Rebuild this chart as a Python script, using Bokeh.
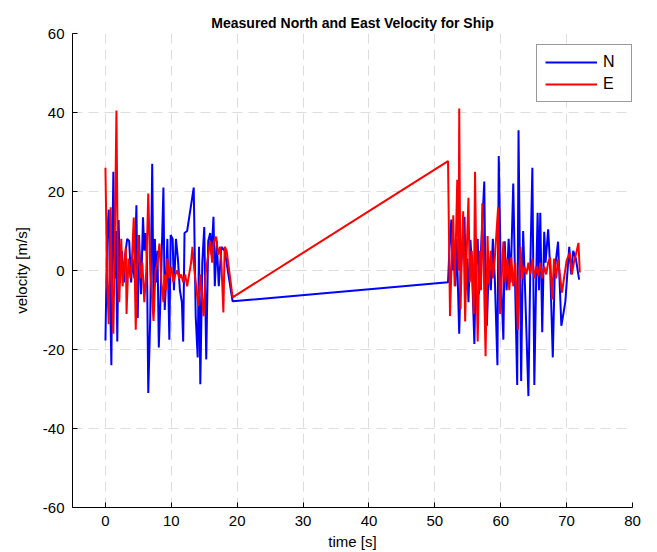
from bokeh.plotting import figure
from bokeh.models import FixedTicker, Range1d, Legend, LegendItem
from bokeh.embed import file_html
from bokeh.resources import INLINE

# North velocity (blue): time [s], value [m/s]
t_n = [0.0, 0.25, 0.5, 0.7, 0.9, 1.05, 1.2, 1.4, 1.6, 1.8, 2.0, 2.2, 2.5, 2.8, 3.0, 3.3, 3.6, 3.9,
       4.1, 4.4, 4.7, 4.9, 5.1, 5.4, 5.7, 5.9, 6.1, 6.3, 6.5, 6.8, 7.1, 7.3, 7.5, 7.7, 7.9, 8.1,
       8.4, 8.8, 9.0, 9.2, 9.4, 9.7, 9.9, 10.2, 10.4, 10.7, 11.0, 11.3, 11.6, 11.8, 12.0, 12.4,
       13.4, 13.7, 14.0, 14.2, 14.4, 14.7, 15.0, 15.3, 15.6, 15.9, 16.1, 16.4, 16.6, 16.9, 17.2,
       17.6, 18.1, 19.3,
       52.0, 52.2, 52.5, 52.7, 52.9, 53.1, 53.3, 53.7, 53.9, 54.2, 54.5, 54.7, 54.9, 55.1, 55.4,
       55.6, 56.0, 56.2, 56.5, 56.7, 57.0, 57.5, 57.7, 57.9, 58.2, 58.5, 58.8, 59.1, 59.5, 59.7,
       60.0, 60.4, 60.6, 60.9, 61.2, 61.5, 61.9, 62.2, 62.5, 62.7, 63.1, 63.4, 63.7, 64.2, 64.5,
       64.8, 65.1, 65.4, 65.6, 65.8, 66.0, 66.3, 66.6, 66.8, 67.2, 67.5, 67.9, 68.2, 68.7, 69.2,
       69.8, 70.4, 70.7, 71.0, 71.4, 71.9]
v_n = [-17.7, 8, 15.4, -5, -24, 5, 25, -2, 10, -18, 12.8, -3, 5, -3, 4, 8, 7.5, -3,
       3, -2, 16.5, -12, 9, -6, 13.5, 5, 9.5, 3, -31, -12, 27, -10, 8, -3, 5, -19.5,
       -5, 21, -10, -3, 8, -17.5, 9, 8, -5, 8, 3, -5, -8, -18, 9.5, 10,
       21, -11.6, -22, 6, -28.8, 2, 11, -22.5, 7.5, 9.5, 4, 13.6, -4, 7.5, -4,
       6, 5, -7.8,
       -3, 5, 12.9, 0, 5, -4, 8, -16, -2, 7, 13.6, -5, 3, -8, 7.8,
       2, -18.6, 0, 8, -6, 5, 22.5, -8, -14, 2, -5, 8, -2, -24, 29,
       0, -17.5, 7.4, -5, 8, -3, 22, -5, -29, 35.5, -28, 10, -5, -31.8, 2,
       26, -29, 0, 14.6, -5, 14.6, -15.6, 9.8, 2, 10.4, 1, -22, 0, 7.3, -14,
       -8, 6, -1, 5, 3, -2.3]

# East velocity (red): time [s], value [m/s]
t_e = [0.0, 0.25, 0.5, 0.8, 1.0, 1.2, 1.4, 1.67, 1.9, 2.1, 2.4, 2.6, 2.9, 3.1, 3.2, 3.5, 3.8,
       4.0, 4.3, 4.6, 4.8, 5.0, 5.3, 5.6, 5.9, 6.2, 6.5, 6.8, 7.0, 7.3, 7.6, 7.9, 8.2, 8.5,
       8.8, 9.0, 9.2, 9.4, 9.7, 10.0, 10.3, 10.6, 10.9, 11.2, 11.5, 11.8, 12.1, 12.4, 12.7,
       13.0, 13.2, 13.5, 14.1, 14.4, 14.9, 15.2, 15.6, 15.9, 16.2, 16.4, 16.8, 17.1, 17.4,
       17.6, 17.9, 18.1, 18.4, 19.3,
       52.0, 52.3, 52.6, 52.8, 53.0, 53.2, 53.4, 53.6, 53.7, 53.9, 54.1, 54.3, 54.6, 54.8,
       55.1, 55.3, 55.6, 55.9, 56.1, 56.3, 56.5, 56.8, 57.0, 57.2, 57.4, 57.7, 58.0, 58.2,
       58.5, 58.8, 59.1, 59.6, 59.9, 60.2, 60.4, 60.7, 61.0, 61.3, 61.6, 61.9, 62.2, 62.6,
       63.0, 63.3, 63.6, 63.9, 64.2, 64.5, 64.8, 65.1, 65.4, 65.7, 66.0, 66.3, 66.6, 66.9,
       67.2, 67.5, 67.8, 68.1, 68.4, 68.7, 69.3, 69.6, 70.0, 70.5, 70.8, 71.1, 71.4, 71.8, 72.0]
v_e = [26, -2, -13.6, 16, -5, -16, 5, 40.5, -3, -8, 8, -4, 2, 5.8, -11, 3, -2,
       2, 13.4, -15, 0, 9, -2, 2, -8, 0, 19.5, 0, -5, -12.8, 0, 2, 6.8, -3,
       -8, -1, -5, 3, -2, 1, -3, -1, 0, -2, -1, -3, -1, -4, -1,
       2, 6, 0, -9, -1, -11.6, -1, 4, 7.5, 2, 7, 8.6, 4, 6,
       2, -10.6, 6, 5, -6.8,
       27.7, -11.5, 5, 14, -4, 8, 23, 0, 41, -9.8, 5, 15, -12.9, 3,
       18.4, -3, 5, -11, 25, 0, -18, 5, -5, 17, 2, -21.7, 8.7, -3.5,
       5, -2, 3, 16, -11, 0, 7.3, -3, 3, -5, 3.4, -4, 2, -15,
       6, -2, 1, -1, 2, -1, 3, -2, 1, -1.5, 2, -2, 1, -1,
       2, 3.3, -7.3, 3, -2, 2.8, -5.6, -2, 2.5, 4.5, -1, 2, 4, 7, -0.5]

x_ticks = [0, 10, 20, 30, 40, 50, 60, 70, 80]
y_ticks = [-60, -40, -20, 0, 20, 40, 60]

FONT = "Liberation Sans"

p = figure(width=657, height=552, output_backend="svg", toolbar_location=None,
           x_range=Range1d(-5, 80), y_range=Range1d(-60, 60),
           min_border_left=72, min_border_right=25, min_border_top=33, min_border_bottom=43,
           title="Measured North and East Velocity for Ship")
p.title.align = "center"
p.title.text_font = FONT
p.title.text_font_size = "14px"
p.title.text_font_style = "bold"
p.title.text_color = "black"
p.title.offset = 0
p.title.standoff = 6
p.outline_line_color = None
p.background_fill_color = "white"
p.border_fill_color = "white"

p.xaxis.ticker = FixedTicker(ticks=x_ticks)
p.yaxis.ticker = FixedTicker(ticks=y_ticks)
p.xaxis.major_label_overrides = {t: str(t) for t in x_ticks}
p.yaxis.major_label_overrides = {t: str(t) for t in y_ticks}
for ax in (p.xaxis, p.yaxis):
    ax.major_tick_in = 5
    ax.major_tick_out = 0
    ax.minor_tick_in = 0
    ax.minor_tick_out = 0
    ax.axis_line_color = "black"
    ax.major_tick_line_color = "black"
    ax.major_label_text_font = FONT
    ax.major_label_text_font_size = "15px"
    ax.major_label_text_color = "black"
    ax.axis_label_text_font = FONT
    ax.axis_label_text_font_size = "15px"
    ax.axis_label_text_font_style = "normal"
    ax.axis_label_text_color = "black"
p.xaxis.axis_label = "time [s]"
p.yaxis.axis_label = "velocity [m/s]"
p.xaxis.major_label_standoff = 8
p.yaxis.major_label_standoff = 8
p.xaxis.axis_label_standoff = 4
p.yaxis.axis_label_standoff = 10

for g in (p.xgrid, p.ygrid):
    g.grid_line_color = "#dddddd"
    g.grid_line_dash = "10 6"
    g.grid_line_width = 1

rn = p.line(t_n, v_n, line_color="#0000ff", line_width=2)
re = p.line(t_e, v_e, line_color="#ff0000", line_width=2)

legend = Legend(items=[LegendItem(label="N", renderers=[rn]),
                       LegendItem(label="E", renderers=[re])],
                location=(464, 405))
legend.glyph_width = 52
legend.glyph_height = 14
legend.label_text_font = FONT
legend.label_text_font_size = "16px"
legend.label_text_color = "black"
legend.label_standoff = 6
legend.spacing = 4
legend.padding = 8
legend.margin = 0
legend.border_line_color = "#333333"
legend.border_line_width = 1
legend.background_fill_alpha = 1
p.add_layout(legend, "center")

open("out.html", "w").write(file_html(p, INLINE))
